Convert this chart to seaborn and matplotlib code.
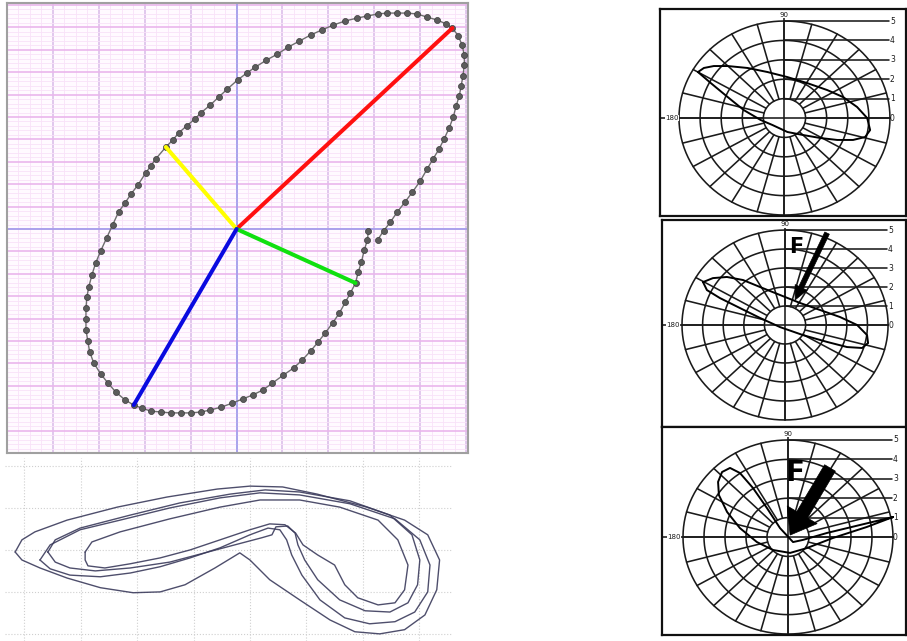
import numpy as np
import pandas as pd
import matplotlib
matplotlib.use("Agg")
import matplotlib.pyplot as plt
import seaborn as sns

sns.set_theme(style="white")
plt.rcParams["font.family"] = ["DejaVu Sans"]

# ---------------------------------------------------------------- data
# Panel A: traced loop of the force-vector tip (grid units)
loop_x = [2.87, 2.85, 2.78, 2.72, 2.65, 2.59, 2.48, 2.37, 2.24, 2.09, 1.93, 1.78,
          1.61, 1.43, 1.24, 1.02, 0.78, 0.57, 0.35, 0.13, -0.09, -0.33, -0.57, -0.78,
          -1.00, -1.22, -1.43, -1.65, -1.87, -2.07, -2.24, -2.43, -2.63, -2.80, -2.96,
          -3.11, -3.20, -3.24, -3.28, -3.28, -3.28, -3.26, -3.22, -3.15, -3.07, -2.96,
          -2.83, -2.70, -2.57, -2.43, -2.30, -2.15, -1.98, -1.87, -1.76, -1.54, -1.39,
          -1.26, -1.09, -0.91, -0.78, -0.57, -0.39, -0.20, 0.02, 0.22, 0.41, 0.65, 0.89,
          1.13, 1.37, 1.61, 1.85, 2.11, 2.37, 2.63, 2.85, 3.07, 3.28, 3.50, 3.72, 3.93,
          4.15, 4.37, 4.57, 4.70, 4.83, 4.91, 4.96, 4.96, 4.93, 4.89, 4.85, 4.78, 4.72,
          4.63, 4.52, 4.41, 4.28, 4.15, 4.00, 3.83, 3.67, 3.50, 3.35, 3.20, 3.07]
loop_y = [-0.09, -0.49, -0.94, -1.47, -1.92, -2.41, -2.86, -3.26, -3.75, -4.20, -4.64,
          -5.04, -5.45, -5.85, -6.21, -6.52, -6.88, -7.19, -7.41, -7.59, -7.77, -7.95,
          -8.08, -8.17, -8.21, -8.21, -8.21, -8.17, -8.13, -7.99, -7.86, -7.63, -7.28,
          -6.88, -6.47, -5.98, -5.49, -5.00, -4.51, -4.02, -3.53, -3.04, -2.59, -2.05,
          -1.52, -0.98, -0.40, 0.18, 0.76, 1.16, 1.56, 1.96, 2.50, 2.81, 3.13, 3.66,
          3.97, 4.29, 4.60, 4.91, 5.18, 5.54, 5.89, 6.25, 6.65, 6.96, 7.23, 7.54, 7.81,
          8.13, 8.39, 8.66, 8.88, 9.11, 9.29, 9.42, 9.51, 9.60, 9.64, 9.64, 9.64, 9.60,
          9.46, 9.33, 9.15, 8.97, 8.62, 8.21, 7.77, 7.32, 6.83, 6.38, 5.94, 5.49, 5.00,
          4.51, 4.02, 3.57, 3.13, 2.68, 2.14, 1.65, 1.21, 0.76, 0.31, -0.09, -0.49]

# Panel A: principal vectors from the origin
vec_names = ["max", "min_left", "min_right", "max_low"]
vec_x = [4.70, -1.54, 2.59, -2.24]
vec_y = [8.97, 3.66, -2.41, -7.86]
vec_colors = ["#ff1010", "#ffff00", "#10e010", "#0a0ae0"]

# Panel B: four recorded trajectories (grid units)
trajB = {
    1: ([-0.16, -0.04, 0.19, 0.76, 1.65, 2.53, 3.42, 4.00, 4.58, 5.19, 6.07, 6.74, 7.15,
         7.36, 7.31, 7.10, 6.74, 6.30, 5.86, 5.42, 4.88, 4.35, 4.00, 3.82, 3.38, 2.85,
         2.41, 1.93, 1.35, 0.76, 0.28, -0.04, -0.16],
        [1.95, 2.24, 2.43, 2.71, 3.02, 3.26, 3.45, 3.52, 3.50, 3.33, 3.02, 2.71, 2.36,
         1.76, 1.05, 0.45, 0.10, 0.00, 0.05, 0.33, 0.81, 1.29, 1.76, 1.93, 1.57, 1.17,
         1.00, 0.98, 1.10, 1.33, 1.57, 1.76, 1.95]),
    2: ([0.28, 0.46, 0.99, 1.70, 2.58, 3.47, 4.18, 4.88, 5.77, 6.57, 7.01, 7.19, 7.15,
         6.92, 6.57, 6.12, 5.68, 5.24, 4.92, 4.74, 4.65, 4.53, 4.32, 4.00, 3.47, 2.94,
         2.41, 1.88, 1.35, 0.81, 0.46, 0.28],
        [1.76, 2.12, 2.48, 2.71, 3.00, 3.24, 3.36, 3.31, 3.10, 2.74, 2.24, 1.64, 1.00,
         0.52, 0.29, 0.24, 0.38, 0.81, 1.40, 1.88, 2.24, 2.48, 2.52, 2.36, 2.05, 1.81,
         1.60, 1.45, 1.36, 1.40, 1.55, 1.76]),
    3: ([0.42, 0.55, 0.99, 1.88, 2.76, 3.65, 4.27, 4.88, 5.77, 6.48, 6.87, 7.01, 6.97,
         6.80, 6.48, 6.04, 5.59, 5.20, 4.97, 4.85, 4.80, 4.67, 4.46, 4.39, 4.21, 3.73,
         3.20, 2.58, 1.88, 1.26, 0.81, 0.55, 0.42],
        [1.95, 2.24, 2.52, 2.83, 3.12, 3.33, 3.43, 3.38, 3.17, 2.83, 2.36, 1.76, 1.17,
         0.74, 0.52, 0.55, 0.81, 1.29, 1.76, 2.12, 2.40, 2.57, 2.55, 2.36, 2.29, 2.12,
         1.93, 1.71, 1.57, 1.50, 1.57, 1.71, 1.95]),
    4: ([1.08, 1.20, 1.70, 2.58, 3.47, 4.18, 4.88, 5.59, 6.27, 6.62, 6.80, 6.74, 6.57,
         6.27, 5.91, 5.68, 5.50, 5.20, 4.94, 4.81, 4.62, 4.35, 4.00, 3.47, 2.94, 2.41,
         1.88, 1.43, 1.13, 1.08, 1.08],
        [1.95, 2.19, 2.43, 2.74, 3.02, 3.19, 3.19, 3.02, 2.71, 2.24, 1.64, 1.05, 0.74,
         0.69, 0.86, 1.17, 1.64, 1.88, 2.12, 2.40, 2.60, 2.62, 2.48, 2.24, 2.00, 1.81,
         1.67, 1.57, 1.62, 1.76, 1.95]),
}

# Panel C: polar-chart loops, scale rings 0..5
ring_labels = ["0", "1", "2", "3", "4", "5"]
c1_x = [-4.10, -3.82, -3.35, -2.69, -1.75, -0.80, 0.14, 1.08, 2.03, 2.78, 3.44, 3.92,
        4.06, 3.82, 3.25, 2.50, 1.70, 0.90, 0.14, -0.57, -1.13, -1.93, -2.69, -3.49, -4.10]
c1_y = [2.37, 2.58, 2.68, 2.68, 2.58, 2.37, 2.11, 1.80, 1.44, 1.08, 0.57, 0.00,
        -0.62, -0.98, -1.13, -1.13, -1.03, -0.88, -0.72, -0.36, -0.10, 0.41, 1.08, 1.80, 2.37]
c2_x = [-3.98, -3.50, -2.82, -2.04, -1.21, -0.24, 0.73, 1.70, 2.67, 3.50, 3.98, 4.03,
        3.74, 3.01, 2.04, 0.87, -0.24, -1.21, -2.18, -3.16, -3.79, -3.98]
c2_y = [2.26, 2.47, 2.53, 2.37, 2.00, 1.58, 1.16, 0.79, 0.42, 0.00, -0.53, -0.95,
        -1.21, -1.16, -0.89, -0.53, -0.11, 0.37, 0.89, 1.42, 1.84, 2.26]
c3_x = [5.00, 3.43, 1.86, 0.71, 0.24, -0.38, -1.00, -1.67, -2.29, -2.76, -3.14, -3.33,
        -3.29, -2.90, -2.29, -1.48, -0.71, 0.10, 0.90, 2.14, 3.76, 5.00]
c3_y = [1.03, 0.62, 0.21, -0.15, -0.26, 0.46, 1.49, 2.53, 3.30, 3.56, 3.35, 2.84,
        2.16, 1.29, 0.46, -0.26, -0.67, -0.82, -0.57, -0.05, 0.52, 1.03]
# applied force F: tail -> head
f2_tail, f2_head = (2.04, 4.84), (0.49, 1.32)
f3_tail, f3_head = (2.00, 3.56), (0.10, 0.10)

# ---------------------------------------------------------------- layout
W, H = 907, 641
fig = plt.figure(figsize=(W / 100, H / 100), dpi=100)
fig.patch.set_facecolor("white")


def px_box(left, top, right, bottom):
    return [left / W, 1 - bottom / H, (right - left) / W, (bottom - top) / H]


def bare(ax):
    ax.set_xlabel("")
    ax.set_ylabel("")
    ax.tick_params(length=0, labelbottom=False, labelleft=False)


# ---------------------------------------------------------------- panel A
axA = fig.add_axes(px_box(7, 3, 468, 453))
axA.set_facecolor("#fffaff")
axA.set_xlim(-4.98, 5.04)
axA.set_ylim(-10.0, 10.09)
axA.set_xticks(np.arange(-4, 6, 1))
axA.set_yticks(np.arange(-10, 11, 1))
axA.set_xticks(np.arange(-5, 5.05, 0.25), minor=True)
axA.set_yticks(np.arange(-10, 10.05, 0.2), minor=True)
axA.grid(which="minor", color="#f8e2f8", lw=0.6)
axA.grid(which="major", axis="y", color="#eab6ec", lw=1.2)
axA.grid(which="major", axis="x", color="#dcc0ea", lw=1.2)
axA.set_axisbelow(True)
axA.axhline(0, color="#9a9aec", lw=1.1, zorder=1)
axA.axvline(0, color="#9a9aec", lw=1.1, zorder=1)
bare(axA)
for s in axA.spines.values():
    s.set_color("#a0a0a0")
    s.set_linewidth(1.5)

dfA = pd.DataFrame({"x": loop_x, "y": loop_y})
sns.lineplot(data=dfA, x="x", y="y", sort=False, estimator=None,
             color="#6e6e6e", lw=1.0, ax=axA, zorder=3)
sns.scatterplot(data=dfA, x="x", y="y", s=19, color="#5c5c5c",
                edgecolor="#3c3c3c", linewidth=0.5, ax=axA, zorder=4, legend=False)
for name, vx, vy, c in zip(vec_names, vec_x, vec_y, vec_colors):
    sns.lineplot(x=[0, vx], y=[0, vy], color=c, lw=2.9, ax=axA, zorder=5,
                 sort=False, estimator=None)
bare(axA)

# ---------------------------------------------------------------- panel B
axB = fig.add_axes(px_box(5, 458, 452, 641))
axB.set_xlim(-0.34, 7.58)
axB.set_ylim(-0.17, 4.19)
axB.set_xticks(np.arange(0, 8, 1))
axB.set_yticks(np.arange(0, 5, 1))
axB.grid(True, color="#cfcfcf", lw=0.8, ls=":")
for s in axB.spines.values():
    s.set_visible(False)
axB.set_facecolor("white")
for k, (tx, ty) in trajB.items():
    sns.lineplot(x=tx, y=ty, sort=False, estimator=None, color="#3b3b5c",
                 lw=1.0, alpha=0.9, ax=axB)
bare(axB)

# ---------------------------------------------------------------- panel C


def polar_chart(ax, xlim, ylim):
    ax.set_xlim(*xlim)
    ax.set_ylim(*ylim)
    ax.set_facecolor("white")
    gc = "#1a1a1a"
    t = np.linspace(0, 2 * np.pi, 241)
    for r in range(1, 6):
        ax.plot(r * np.cos(t), r * np.sin(t), color=gc, lw=1.15, zorder=2)
    for a in np.deg2rad(np.arange(0, 360, 15)):
        ax.plot([np.cos(a), 5 * np.cos(a)], [np.sin(a), 5 * np.sin(a)],
                color=gc, lw=1.15, zorder=2)
    ax.plot([xlim[0], 4.95], [0, 0], color=gc, lw=1.15, zorder=2)
    ax.plot([0, 0], [-5, 5.15], color=gc, lw=1.15, zorder=2)
    for k, lab in enumerate(ring_labels):
        if k > 0:
            ax.plot([0, 4.95], [k, k], color=gc, lw=1.15, zorder=2)
        ax.text(5.0, k, lab, fontsize=5.5, ha="left", va="center", color=gc)
    ax.text(0, 5.3, "90", fontsize=5, ha="center", va="center", color=gc,
            bbox=dict(facecolor="white", edgecolor="none", pad=0.2))
    ax.text(xlim[0] + 0.55, 0, "180", fontsize=5, ha="center", va="center",
            color=gc, bbox=dict(facecolor="white", edgecolor="none", pad=0.2))
    for s in ax.spines.values():
        s.set_color("#101010")
        s.set_linewidth(1.6)
    bare(ax)


def force_arrow(ax, tail, head, tail_w, head_w, head_l, scale):
    style = f"simple,head_length={head_l},head_width={head_w},tail_width={tail_w}"
    ax.annotate("", xy=head, xytext=tail, zorder=6,
                arrowprops=dict(arrowstyle=style, fc="black", ec="black", lw=0.5,
                                mutation_scale=scale, shrinkA=0, shrinkB=0))


axC1 = fig.add_axes(px_box(660, 9, 906, 216))
polar_chart(axC1, (-5.90, 5.76), (-5.05, 5.62))
sns.lineplot(x=c1_x, y=c1_y, sort=False, estimator=None, color="black", lw=1.4, ax=axC1)
bare(axC1)

axC2 = fig.add_axes(px_box(662, 220, 906, 427))
polar_chart(axC2, (-5.97, 5.87), (-5.37, 5.53))
sns.lineplot(x=c2_x, y=c2_y, sort=False, estimator=None, color="black", lw=1.4, ax=axC2)
force_arrow(axC2, f2_tail, f2_head, tail_w=0.36, head_w=0.95, head_l=1.0, scale=10)
axC2.text(0.55, 4.1, "F", fontsize=15, fontweight="bold", ha="center",
          va="center", color="black", zorder=7)
bare(axC2)

axC3 = fig.add_axes(px_box(662, 427, 906, 635))
polar_chart(axC3, (-6.0, 5.62), (-5.05, 5.67))
sns.lineplot(x=c3_x, y=c3_y, sort=False, estimator=None, color="black", lw=1.4, ax=axC3)
force_arrow(axC3, f3_tail, f3_head, tail_w=0.45, head_w=1.25, head_l=0.85, scale=20)
axC3.text(0.35, 3.3, "F", fontsize=20, fontweight="bold", ha="center",
          va="center", color="black", zorder=7)
bare(axC3)

fig.savefig("out.png", dpi=100, facecolor="white")
